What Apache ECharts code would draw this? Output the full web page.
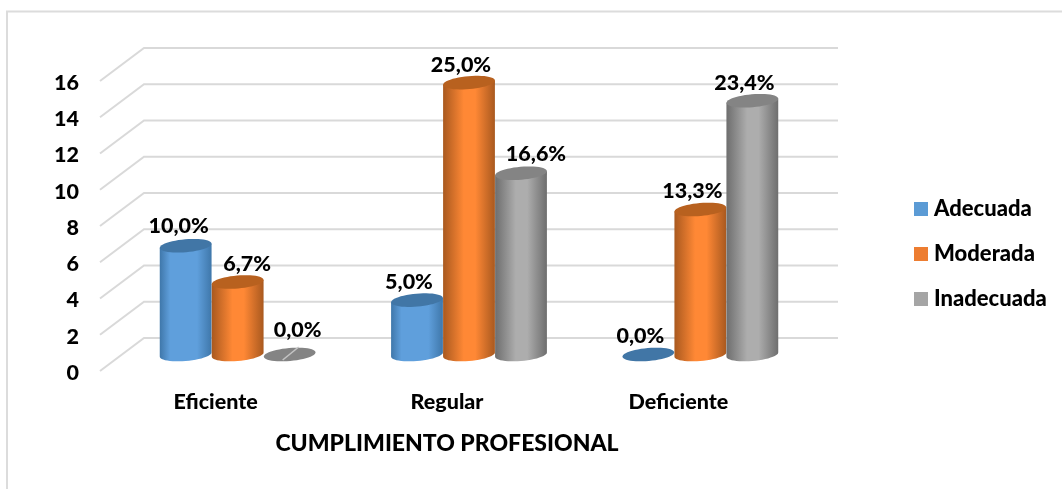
<!DOCTYPE html>
<html><head><meta charset="utf-8">
<style>html,body{margin:0;padding:0;background:#fff}#c{width:1062px;height:489px}</style>
<script src="https://cdn.jsdelivr.net/npm/echarts@6/dist/echarts.min.js"></script>
</head><body><div id="c"></div>
<script>
const categories = ['Eficiente', 'Regular', 'Deficiente'];
const yTicks = [0, 2, 4, 6, 8, 10, 12, 14, 16];
const seriesNames = ['Adecuada', 'Moderada', 'Inadecuada'];
const adecuada = [6, 3, 0];
const moderada = [4, 15, 8];
const inadecuada = [0, 10, 14];
const adecuadaLabels = ['10,0%', '5,0%', '0,0%'];
const moderadaLabels = ['6,7%', '25,0%', '13,3%'];
const inadecuadaLabels = ['0,0%', '16,6%', '23,4%'];

const FONT = 'Lato';
const WEIGHT = 900;
const DEPTH = {x: 44, y: -33};
const W = 52, RY = 6.5, TILT = -5 * Math.PI / 180;
const PAL = [
  {legend:'#5b9bd5', edge:'#3f77aa', mid:'#5f9fdc', top:'#4176a6', m0:0.2, m1:0.72},
  {legend:'#ed7d31', edge:'#a9591f', mid:'#ff8835', top:'#b8611f', m0:0.4, m1:0.62},
  {legend:'#a5a5a5', edge:'#6e6e6e', mid:'#adadad', top:'#848484', m0:0.4, m1:0.62}
];
// hand-placed labels in the original: series-category nudges
const NUDGE = {'0-0':[1,-2], '1-0':[17.5,0], '2-0':[16,-6], '2-1':[23,-1]};

function ellipsePt(c, rx, ry, t){
  return [c[0] + rx*Math.cos(t)*Math.cos(TILT) - ry*Math.sin(t)*Math.sin(TILT),
          c[1] + rx*Math.cos(t)*Math.sin(TILT) + ry*Math.sin(t)*Math.cos(TILT)];
}
function ellipsePts(c, rx, ry, from, to, n){
  const out=[]; for(let i=0;i<=n;i++) out.push(ellipsePt(c,rx,ry,from+(to-from)*i/n)); return out;
}
function cylinder(si){
  return function(params, api){
    const cat = api.value(0), val = api.value(1), lab = api.value(2);
    const pal = PAL[si], rx = W/2;
    const base = api.coord([cat, 0]), topFront = api.coord([cat, val]);
    const off = (si-1)*W + DEPTH.x/2;
    const bc = [base[0]+off, base[1]+DEPTH.y/2];
    const tc = [topFront[0]+off, topFront[1]+DEPTH.y/2];
    const t0 = Math.atan(-(RY/rx)*Math.tan(TILT));
    const children = [];
    if(val > 0){
      const pts = ellipsePts(bc, rx, RY, t0, t0+Math.PI, 24).concat([ellipsePt(tc,rx,RY,t0+Math.PI), ellipsePt(tc,rx,RY,t0)]);
      children.push({type:'polygon', shape:{points:pts}, style:{fill:{type:'linear',x:0,y:0,x2:1,y2:0,colorStops:[
        {offset:0,color:pal.edge},{offset:pal.m0,color:pal.mid},{offset:pal.m1,color:pal.mid},{offset:1,color:pal.edge}]}}});
    }
    children.push({type:'polygon', shape:{points:ellipsePts(tc,rx,RY,0,2*Math.PI,48)}, style:{fill:pal.top}});
    if(val === 0 && si === 2){
      children.push({type:'line', shape:{x1:tc[0]-7,y1:tc[1]+5.5,x2:tc[0]+9,y2:tc[1]-7.5}, style:{stroke:'#c4c4c4',lineWidth:1.6}});
    }
    const n = NUDGE[si+'-'+cat] || [0,0];
    children.push({type:'text', z2:50, style:{text:lab, x:tc[0]-8+n[0], y:tc[1]-18+n[1], align:'center', verticalAlign:'middle',
      font:WEIGHT+' 21.5px '+FONT, fill:'#000'}});
    return {type:'group', children};
  };
}
function wallLine(params, api){
  const v = api.value(0), cs = params.coordSys;
  const p = api.coord([0, v]);
  const x0 = cs.x, y = p[1];
  return {type:'polyline', shape:{points:[[x0,y],[x0+DEPTH.x,y+DEPTH.y],[x0+cs.width+DEPTH.x,y+DEPTH.y]]},
    style:{stroke:'#d9d9d9',lineWidth:2,fill:null}};
}
const chart = echarts.init(document.getElementById('c'), null, {renderer:'canvas'});
const valueSets = [adecuada, moderada, inadecuada];
const labelSets = [adecuadaLabels, moderadaLabels, inadecuadaLabels];
chart.setOption({
  animation:false,
  backgroundColor:'#fff',
  textStyle:{fontFamily:FONT},
  grid:{left:100, top:81, width:694, height:290},
  xAxis:{type:'category', data:categories, axisLine:{show:false}, axisTick:{show:false}, splitLine:{show:false},
    axisLabel:{margin:20, fontFamily:FONT, fontWeight:WEIGHT, fontSize:21.5, color:'#000'},
    name:'CUMPLIMIENTO PROFESIONAL', nameLocation:'middle', nameGap:61,
    nameTextStyle:{fontFamily:FONT, fontWeight:WEIGHT, fontSize:23, color:'#000'}},
  yAxis:{type:'value', min:0, max:16, interval:2, axisLine:{show:false}, axisTick:{show:false}, splitLine:{show:false},
    axisLabel:{margin:21, formatter:'{a|{value}}', rich:{a:{fontFamily:FONT, fontWeight:WEIGHT, fontSize:21.5, color:'#000', padding:[4,0,0,0]}}}},
  legend:{show:true, orient:'vertical', left:914, top:198, padding:0, itemWidth:14, itemHeight:14, itemGap:23, icon:'rect',
    data:seriesNames, textStyle:{fontFamily:FONT, fontWeight:WEIGHT, fontSize:22, color:'#000', padding:[0,0,0,1]}},
  graphic:[{type:'polyline', silent:true, shape:{points:[[7,489],[7,11.5],[1062,11.5]]}, style:{stroke:'#dcdcdc',lineWidth:2,fill:null}}],
  series:[
    {type:'custom', name:'wall', coordinateSystem:'cartesian2d', silent:true, z:1, data:yTicks.map(v=>[v]), encode:{y:0}, renderItem:wallLine},
    ...seriesNames.map((name,si)=>({type:'custom', name, z:2+si, coordinateSystem:'cartesian2d',
      itemStyle:{color:PAL[si].legend},
      data:valueSets[si].map((v,i)=>[i,v,labelSets[si][i]]), encode:{x:0,y:1}, renderItem:cylinder(si)}))
  ]
});
</script></body></html>
